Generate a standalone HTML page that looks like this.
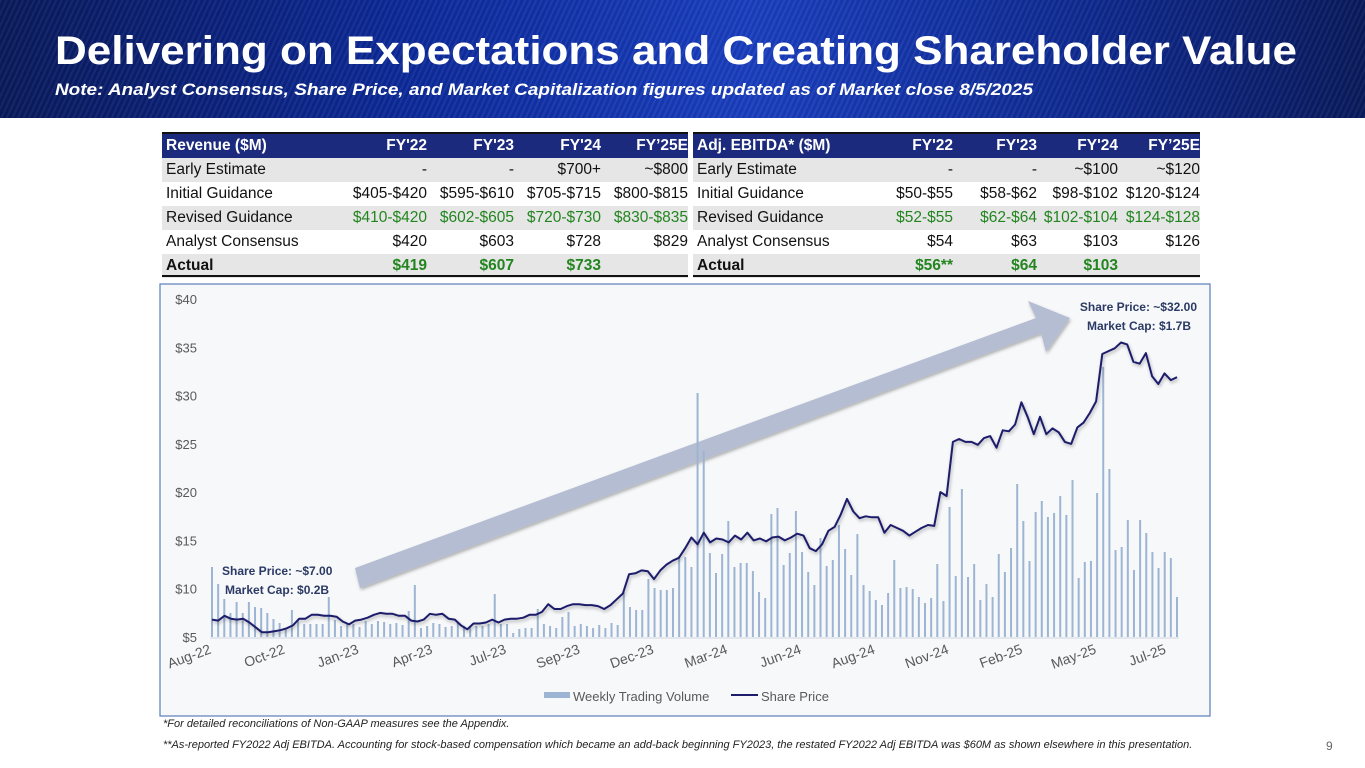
<!DOCTYPE html>
<html><head><meta charset="utf-8"><style>
*{margin:0;padding:0;box-sizing:border-box}
body{width:1365px;height:768px;background:#fff;position:relative;overflow:hidden;font-family:"Liberation Sans",Arial,sans-serif}
#banner{position:absolute;left:0;top:0;width:1365px;height:118px;background:linear-gradient(90deg,#0a1a5c 0%,#0d2a9a 30%,#1a3fc0 55%,#0f2a90 80%,#0a1a5c 100%)}
#banner:after{content:"";position:absolute;inset:0;background:repeating-linear-gradient(115deg,rgba(255,255,255,0.05) 0 2px,rgba(0,0,0,0.05) 2px 5px)}
.tbl{position:absolute;top:132px;font-size:15.5px;color:#111}
.row{position:absolute;left:0;height:24px;line-height:24px}
.row span{position:absolute;white-space:nowrap}
.hdr{background:#1b2a7c;color:#fff;font-weight:bold;border-top:2px solid #111}
.g{background:#e6e6e6}.w{background:#fff}
.grn{color:#23851f}
.bold{font-weight:bold}
.bot{position:absolute;left:0;top:143px;height:2px;background:#111}
</style></head><body>
<div id="banner"></div>
<svg style="position:absolute;left:0;top:0" width="1365" height="118">
<text x="55" y="64" fill="#fff" font-family="Liberation Sans" font-weight="bold" font-size="40" textLength="1242" lengthAdjust="spacingAndGlyphs">Delivering on Expectations and Creating Shareholder Value</text>
<text x="55" y="95" fill="#fff" font-family="Liberation Sans" font-weight="bold" font-style="italic" font-size="17" textLength="978" lengthAdjust="spacingAndGlyphs">Note: Analyst Consensus, Share Price, and Market Capitalization figures updated as of Market close 8/5/2025</text>
</svg>

<div class="tbl" style="left:162px;width:526px">
<div id="revrows"></div>
</div>
<div class="tbl" style="left:693px;width:507px">
<div id="ebrows"></div>
</div>

<svg id="chart" style="position:absolute;left:0;top:0" width="1365" height="768"></svg>

<div style="position:absolute;left:163px;top:718px;font-size:11px;font-style:italic;color:#222">*For detailed reconciliations of Non-GAAP measures see the Appendix.</div>
<div style="position:absolute;left:163px;top:739px;font-size:11px;font-style:italic;color:#222">**As-reported FY2022 Adj EBITDA. Accounting for stock-based compensation which became an add-back beginning FY2023, the restated FY2022 Adj EBITDA was $60M as shown elsewhere in this presentation.</div>
<div style="position:absolute;left:1326px;top:739px;font-size:12px;color:#666">9</div>

<script>
function buildTable(id, width, cols, rows){
  const host=document.getElementById(id);
  const cls=['hdr','g','w','g','w','g'];
  rows.forEach((r,ri)=>{
    const d=document.createElement('div');
    
    
    d.className='row '+cls[ri]+(ri==5?' bold':'');
    d.style.top=(ri==0?0:2+ri*24)+'px';d.style.width=width+'px';
    if(ri==0){d.style.height='26px';}
    r.forEach((c,ci)=>{
      const s=document.createElement('span');
      
      
      s.textContent=c;
      if(ci==0){s.style.left='4px';}
      else{s.style.right=(width-cols[ci-1])+'px';if(ri==3||ri==5)s.className='grn';}
      d.appendChild(s);
    });
    host.appendChild(d);
  });
  const b=document.createElement('div');b.className='bot';b.style.width=width+'px';
  
  
  host.appendChild(b);
}
buildTable('revrows',526,[265,352,439,526],[
 ["Revenue ($M)","FY'22","FY'23","FY'24","FY’25E"],
 ["Early Estimate","-","-","$700+","~$800"],
 ["Initial Guidance","$405-$420","$595-$610","$705-$715","$800-$815"],
 ["Revised Guidance","$410-$420","$602-$605","$720-$730","$830-$835"],
 ["Analyst Consensus","$420","$603","$728","$829"],
 ["Actual","$419","$607","$733",""]]);
buildTable('ebrows',507,[260,344,425,507],[
 ["Adj. EBITDA* ($M)","FY'22","FY'23","FY'24","FY’25E"],
 ["Early Estimate","-","-","~$100","~$120"],
 ["Initial Guidance","$50-$55","$58-$62","$98-$102","$120-$124"],
 ["Revised Guidance","$52-$55","$62-$64","$102-$104","$124-$128"],
 ["Analyst Consensus","$54","$63","$103","$126"],
 ["Actual","$56**","$64","$103",""]]);
</script>

<script>
const priceTicks=[5,10,15,20,25,30,35,40];
const xLabels=["Aug-22","Oct-22","Jan-23","Apr-23","Jul-23","Sep-23","Dec-23","Mar-24","Jun-24","Aug-24","Nov-24","Feb-25","May-25","Jul-25"];
const sharePrice=[6.8,6.7,7.2,6.9,6.8,6.9,6.5,6.0,5.5,5.5,5.6,5.7,5.9,6.2,6.9,6.9,7.3,7.3,7.2,7.2,7.1,6.6,6.3,6.7,6.8,7.0,7.3,7.5,7.4,7.4,7.2,7.2,6.7,6.6,6.8,7.4,7.3,7.4,6.9,6.8,6.2,5.8,6.4,6.4,6.5,6.8,6.5,6.8,6.9,6.9,7.0,7.3,7.3,7.6,8.4,7.9,7.9,8.2,8.4,8.4,8.3,8.3,8.2,7.9,8.3,8.9,9.5,11.5,11.6,11.9,11.8,11.0,11.9,12.5,12.9,13.2,14.2,15.3,14.6,15.8,14.8,15.2,15.1,14.8,15.5,15.1,15.8,15.0,15.2,14.9,15.3,15.4,15.0,15.3,15.7,15.5,14.2,13.9,14.6,16.0,16.4,17.7,19.3,18.0,17.3,17.5,17.4,17.4,15.8,16.6,16.3,16.0,15.5,15.9,16.3,16.6,16.5,20.0,19.6,25.2,25.5,25.2,25.2,24.9,25.6,25.8,24.6,26.4,26.3,27.0,29.3,27.8,26.0,27.8,26.0,26.6,26.2,25.2,25.0,26.7,27.2,28.2,29.4,34.3,34.6,34.9,35.5,35.3,33.5,33.3,34.4,32.0,31.2,32.3,31.6,31.9];
const weeklyVolume=[70,53,38,24,35,24,35,30,29,24,18,14,9,27,17,13,13,13,13,40,17,11,13,13,10,16,13,16,15,13,14,12,26,52,9,11,14,13,10,11,14,11,11,11,11,13,43,13,13,4,8,9,9,28,13,11,9,20,25,11,13,11,9,12,9,14,12,45,30,27,27,58,49,47,47,
49,81,80,70,244,186,84,64,83,116,70,74,74,66,45,39,123,129,72,84,126,85,65,52,99,71,77,112,88,62,103,52,46,37,32,44,77,49,50,48,40,34,39,73,36,130,61,148,60,73,37,53,40,83,65,89,153,116,76,125,136,120,124,141,122,157,59,75,76,144,270,168,87,90,117,67,117,104,85,69,85,79,40];

const svg=document.getElementById('chart');
const NS='http://www.w3.org/2000/svg';
function el(t,a,p){const e=document.createElementNS(NS,t);for(const k in a)e.setAttribute(k,a[k]);(p||svg).appendChild(e);return e;}
const X0=212,X1=1177,Y0=637,Y1=299;
const yP=v=>Y0-(v-5)/(40-5)*(Y0-Y1);
const yV=v=>Y0-v/338*(Y0-Y1);
const xP=i=>X0+i*(X1-X0)/(sharePrice.length-1);
const xV=i=>X0+i*(X1-X0)/(weeklyVolume.length-1);

let r=el('rect',{x:160,y:284,width:1050,height:432,fill:'#f7f8fa',stroke:'#5b7fb8','stroke-width':1.2});


const defs=el('defs',{});
const f=el('filter',{id:'sh',x:'-5%',y:'-5%',width:'110%',height:'120%'},defs);
el('feDropShadow',{dx:1,dy:2,stdDeviation:1.5,'flood-color':'#000','flood-opacity':0.3},f);

priceTicks.forEach(v=>{
  const t=el('text',{x:197,y:yP(v)+5,'text-anchor':'end','font-size':13,fill:'#595959','font-family':'Liberation Sans'});
  
  
  t.textContent='$'+v;
});
el('line',{x1:X0-2,x2:X1+2,y1:Y0+1,y2:Y0+1,stroke:'#d0d6e0','stroke-width':1});

let arrow=el('polygon',{points:'355,568 1036,318 1028,301 1070,318 1046,352 1041,333 360,588',fill:'#b5bdd2',filter:'url(#sh)'});



weeklyVolume.forEach((v,i)=>{
  const b=el('rect',{x:xV(i)-1,y:yV(v),width:2,height:Y0-yV(v),fill:'#9db5d3'});
  
  
});
const pts=sharePrice.map((v,i)=>xP(i).toFixed(1)+','+yP(v).toFixed(1)).join(' ');
let line=el('polyline',{points:pts,fill:'none',stroke:'#1c1c6b','stroke-width':2,filter:'url(#sh)','stroke-linejoin':'round'});



xLabels.forEach((s,k)=>{
  const x=xV(Math.min(k*12,weeklyVolume.length-1))+(k==xLabels.length-1?-4:0);
  const t=el('text',{x:x,y:653,'text-anchor':'end','font-size':14,fill:'#595959','font-family':'Liberation Sans',transform:`rotate(-20 ${x} 653)`});
  
  
  t.textContent=s;
});

function ann(x,y,txt,anchor){const t=el('text',{x:x,y:y,'text-anchor':anchor,'font-size':12,'font-weight':'bold',fill:'#2b3a64','font-family':'Liberation Sans'});
 
 
 t.textContent=txt;}
ann(222,575,'Share Price: ~$7.00','start');
ann(225,594,'Market Cap: $0.2B','start');
ann(1197,311,'Share Price: ~$32.00','end');
ann(1191,330,'Market Cap: $1.7B','end');

let l1=el('rect',{x:544,y:692,width:26,height:6,fill:'#9db5d3'});


let lt1=el('text',{x:573,y:701,'font-size':13,fill:'#595959','font-family':'Liberation Sans'});lt1.textContent='Weekly Trading Volume';


let l2=el('line',{x1:731,x2:758,y1:695,y2:695,stroke:'#1c1c6b','stroke-width':2});


let lt2=el('text',{x:761,y:701,'font-size':13,fill:'#595959','font-family':'Liberation Sans'});lt2.textContent='Share Price';


</script>
</body></html>
